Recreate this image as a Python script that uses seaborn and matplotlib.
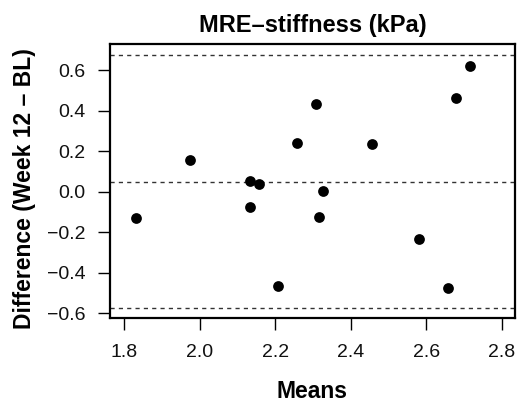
import matplotlib
matplotlib.use("Agg")
import matplotlib.pyplot as plt
import seaborn as sns
import pandas as pd

means = [1.832, 1.974, 2.134, 2.157, 2.132, 2.258, 2.315, 2.327, 2.455, 2.580,
         2.308, 2.680, 2.717, 2.208, 2.657]
diffs = [-0.130, 0.158, 0.051, 0.040, -0.076, 0.240, -0.123, 0.005, 0.236, -0.234,
         0.433, 0.464, 0.619, -0.463, -0.476]
ref_lines = [0.674, 0.049, -0.575]
x_ticks = [1.8, 2.0, 2.2, 2.4, 2.6, 2.8]
y_ticks = [-0.6, -0.4, -0.2, 0.0, 0.2, 0.4, 0.6]

sns.set_style("white")
plt.rcParams['font.family'] = ['Liberation Sans', 'DejaVu Sans']
plt.rcParams['text.color'] = 'black'
plt.rcParams['axes.labelcolor'] = 'black'

df = pd.DataFrame({"Means": means, "Diff": diffs})

fig = plt.figure(figsize=(5.17, 4.08), dpi=100)
ax = fig.add_axes([110/517, 1-318.3/408, (515-110)/517, (318.3-44.3)/408])

for v in ref_lines:
    ax.axhline(v, color="#333333", lw=1.0, ls=(0, (3, 3)), zorder=1)

sns.scatterplot(data=df, x="Means", y="Diff", ax=ax, color="black", s=60,
                edgecolor="black", linewidth=0, zorder=3)

ax.set_xlim(1.762, 2.835)
ax.set_ylim(-0.624, 0.727)
ax.set_xticks(x_ticks)
ax.set_xticklabels([f"{t:.1f}" for t in x_ticks])
ax.set_yticks(y_ticks)
ax.set_yticklabels([f"{t:.1f}".replace("-", "\u2212") for t in y_ticks])

for s in ax.spines.values():
    s.set_linewidth(1.6)
    s.set_color("black")

ax.tick_params(axis="both", direction="out", length=8.5, width=1.0, color="black",
               labelsize=14, labelcolor="#111111", left=True, bottom=True)
ax.tick_params(axis="x", pad=10)
ax.tick_params(axis="y", pad=9)

ax.set_xlabel("Means", fontsize=16.5, fontweight="bold", labelpad=14, color="black")
ax.set_ylabel("Difference (Week 12 \u2013 BL)", fontsize=16.5, fontweight="bold",
              labelpad=8, color="black")
ax.yaxis.label.set_y(0.475)
ax.set_title("MRE\u2013stiffness (kPa)", fontsize=17, fontweight="bold", pad=9,
             color="black")

fig.savefig("out.png", dpi=100)
